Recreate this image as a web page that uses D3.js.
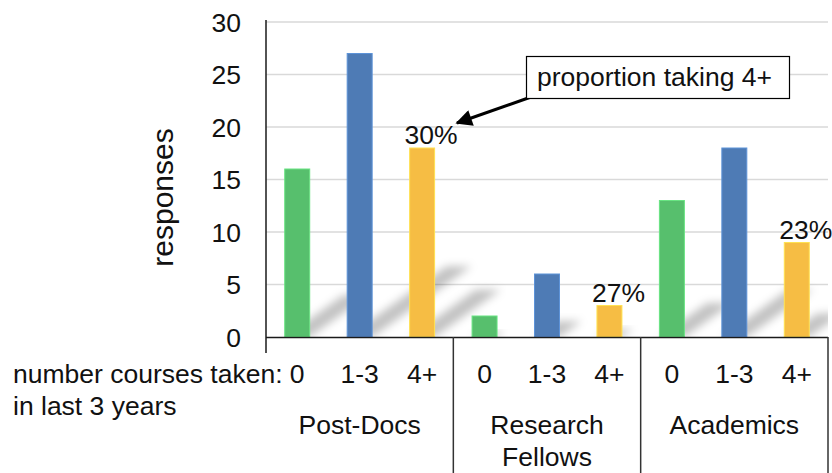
<!DOCTYPE html>
<html>
<head>
<meta charset="utf-8">
<script src="https://cdn.jsdelivr.net/npm/d3@7"></script>
<style>
  html, body { margin: 0; padding: 0; background: #fff; }
  svg { display: block; font-family: "Liberation Sans", Arial, Helvetica, sans-serif; }
</style>
</head>
<body>
<svg id="chart" width="832" height="473"></svg>
<script>
// Survey responses: courses taken in the last 3 years, by career stage
const groups = ["Post-Docs", "Research Fellows", "Academics"];
const courseBins = ["0", "1-3", "4+"];
const postDocs = [16, 27, 18];
const researchFellows = [2, 6, 3];
const academics = [13, 18, 9];
const yTicks = [0, 5, 10, 15, 20, 25, 30];
const binColors = ["#57bf6d", "#4e7bb5", "#f6bd44"];

const seriesByGroup = [postDocs, researchFellows, academics];

const svg = d3.select("#chart");
const W = 832, H = 473;
const FS = 26.5;
const plot = { left: 266, right: 828, top: 22, bottom: 337 };

const y = d3.scaleLinear().domain([0, 30]).range([plot.bottom, plot.top]);
const xGroup = d3.scaleBand().domain(groups).range([plot.left, plot.right]).padding(0);
const xBin = d3.scaleBand().domain(courseBins).range([0, xGroup.bandwidth()])
  .paddingInner(0.6).paddingOuter(0.3);

const rows = [];
groups.forEach((g, gi) => {
  courseBins.forEach((b, bi) => {
    rows.push({ group: g, bin: b, bi, value: seriesByGroup[gi][bi],
      total: d3.sum(seriesByGroup[gi]) });
  });
});

const defs = svg.append("defs");
defs.append("filter").attr("id", "shadowBlur")
  .attr("x", "-50%").attr("y", "-50%").attr("width", "200%").attr("height", "200%")
  .append("feGaussianBlur").attr("stdDeviation", 4.5);
defs.append("clipPath").attr("id", "plotClip")
  .append("rect").attr("x", plot.left).attr("y", 0)
  .attr("width", plot.right - plot.left).attr("height", plot.bottom);

// gridlines
svg.append("g").selectAll("line").data(yTicks.filter(t => t > 0)).join("line")
  .attr("x1", plot.left).attr("x2", plot.right)
  .attr("y1", d => y(d)).attr("y2", d => y(d))
  .attr("stroke", "#d9d9d9").attr("stroke-width", 1.5);

// y tick labels
svg.append("g").selectAll("text").data(yTicks).join("text")
  .attr("x", 241).attr("y", d => y(d)).attr("dy", "0.36em")
  .attr("text-anchor", "end").attr("font-size", FS).attr("fill", "#111")
  .text(d => d);

// y axis title
svg.append("text")
  .attr("transform", `translate(173,${(plot.top + plot.bottom) / 2 + 18}) rotate(-90)`)
  .attr("text-anchor", "middle").attr("font-size", 30).attr("fill", "#111")
  .text("responses");

const barX = d => xGroup(d.group) + xBin(d.bin);

// perspective shadows cast up and to the right of each bar
svg.append("g").attr("clip-path", "url(#plotClip)")
  .selectAll("path").data(rows).join("path")
  .attr("filter", "url(#shadowBlur)")
  .attr("fill", "#000").attr("fill-opacity", 0.24)
  .attr("d", d => {
    const x0 = barX(d), x1 = x0 + xBin.bandwidth();
    const h = y(0) - y(d.value);
    const dx = 0.35 * h, dy = 0.25 * h;
    const b = y(0);
    return `M${x0},${b}L${x1},${b}L${x1 + dx},${b - dy}L${x0 + dx},${b - dy}Z`;
  });

// bars
svg.append("g").selectAll("rect").data(rows).join("rect")
  .attr("x", barX).attr("width", xBin.bandwidth())
  .attr("y", d => y(d.value)).attr("height", d => y(0) - y(d.value))
  .attr("fill", d => binColors[d.bi])
  .attr("stroke", d => d3.color(binColors[d.bi]).brighter(0.5))
  .attr("stroke-width", 1);

// share of respondents taking 4+ courses
svg.append("g").selectAll("text").data(rows.filter(d => d.bin === "4+")).join("text")
  .attr("x", d => barX(d) + xBin.bandwidth() / 2 + 9)
  .attr("y", d => y(d.value) - 4)
  .attr("text-anchor", "middle").attr("font-size", FS).attr("fill", "#111")
  .text(d => Math.round(d.value / d.total * 100) + "%");

// axes lines
const axisColor = "#1a1a1a";
svg.append("line").attr("x1", plot.left).attr("x2", plot.left)
  .attr("y1", plot.top - 2).attr("y2", plot.bottom + 16)
  .attr("stroke", axisColor).attr("stroke-width", 1.5);
svg.append("line").attr("x1", plot.left).attr("x2", plot.right)
  .attr("y1", plot.bottom + 0.5).attr("y2", plot.bottom + 0.5)
  .attr("stroke", axisColor).attr("stroke-width", 1.5);
svg.append("g").selectAll("line").data(groups).join("line")
  .attr("x1", g => xGroup(g) + xGroup.bandwidth()).attr("x2", g => xGroup(g) + xGroup.bandwidth())
  .attr("y1", plot.bottom).attr("y2", H)
  .attr("stroke", "#333").attr("stroke-width", 1.5);

// bin labels under each bar
svg.append("g").selectAll("text").data(rows).join("text")
  .attr("x", d => barX(d) + xBin.bandwidth() / 2).attr("y", 383)
  .attr("text-anchor", "middle").attr("font-size", FS).attr("fill", "#111")
  .text(d => d.bin);

// group labels
const gl = svg.append("g").selectAll("text").data(groups).join("text")
  .attr("x", g => xGroup(g) + xGroup.bandwidth() / 2).attr("y", 434)
  .attr("text-anchor", "middle").attr("font-size", FS).attr("fill", "#111");
gl.each(function (g) {
  const words = g === "Research Fellows" ? ["Research", "Fellows"] : [g];
  d3.select(this).selectAll("tspan").data(words).join("tspan")
    .attr("x", xGroup(g) + xGroup.bandwidth() / 2)
    .attr("dy", (w, i) => i === 0 ? 0 : 32)
    .text(w => w);
});

// x axis description
svg.append("text").attr("x", 13).attr("y", 383).attr("font-size", FS).attr("fill", "#111")
  .text("number courses taken:");
svg.append("text").attr("x", 13).attr("y", 415).attr("font-size", FS).attr("fill", "#111")
  .text("in last 3 years");

// callout box with arrow
defs.append("marker").attr("id", "arrowHead")
  .attr("viewBox", "0 0 10 10").attr("refX", 9).attr("refY", 5)
  .attr("markerWidth", 6).attr("markerHeight", 5.5).attr("orient", "auto")
  .append("path").attr("d", "M0,0L10,5L0,10Z").attr("fill", "#000");
svg.append("line").attr("x1", 531).attr("y1", 97).attr("x2", 457).attr("y2", 123)
  .attr("stroke", "#000").attr("stroke-width", 3).attr("marker-end", "url(#arrowHead)");
svg.append("rect").attr("x", 526.5).attr("y", 56.5).attr("width", 263).attr("height", 42)
  .attr("fill", "#fff").attr("stroke", "#000").attr("stroke-width", 1.2);
svg.append("text").attr("x", 537).attr("y", 86).attr("font-size", FS).attr("fill", "#111")
  .text("proportion taking 4+");
</script>
</body>
</html>
